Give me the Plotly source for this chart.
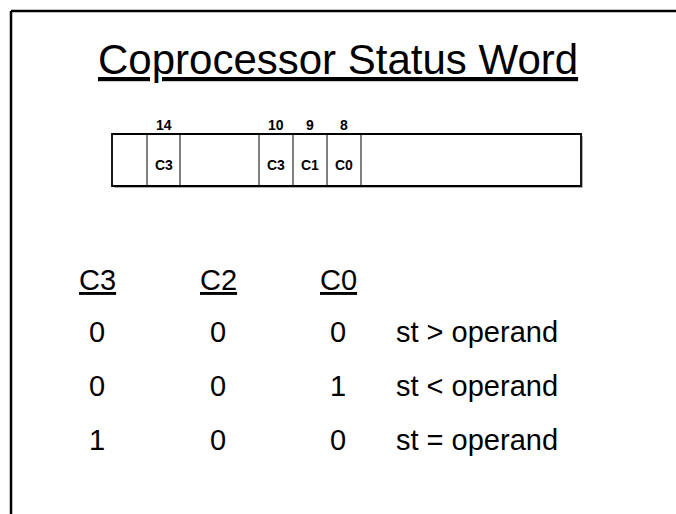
import plotly.graph_objects as go

# ---- data ----
title_text = "Coprocessor Status Word"

# register diagram: cell boundaries (diagram units), cell labels and bit numbers
cell_edges = [112, 147, 180, 259, 293, 327, 361, 581]
cell_labels = ["", "C3", "", "C3", "C1", "C0", ""]
bit_numbers = ["", "14", "", "10", "9", "8", ""]

# condition-code table
table_headers = ["C3", "C2", "C0"]
col_c3 = ["0", "0", "1"]
col_c2 = ["0", "0", "0"]
col_c0 = ["0", "1", "0"]
meaning = ["st > operand", "st < operand", "st = operand"]

# ---- layout helpers ----
W, H = 676, 514
FONT = "Liberation Sans, Arial, sans-serif"
reg_top, reg_bot = 134, 186
bit_y = 125
col_x = [97, 218, 338]
desc_x = 394
header_y = 280
row_y = [332, 386, 440]

fig = go.Figure()
fig.add_trace(go.Scatter(x=[0, W], y=[0, H], mode="markers",
                         marker=dict(opacity=0), hoverinfo="skip", showlegend=False))

shapes = []
# slide frame (partially visible)
shapes.append(dict(type="line", x0=11, y0=11, x1=W + 5, y1=11,
                   line=dict(color="black", width=2.5)))
shapes.append(dict(type="line", x0=11, y0=11, x1=11, y1=H + 5,
                   line=dict(color="black", width=2.5)))
# faint shadow of register box
shapes.append(dict(type="line", x0=cell_edges[0] + 2, y0=reg_bot + 1.5, x1=cell_edges[-1] + 1.5,
                   y1=reg_bot + 1.5, line=dict(color="#b0b0b0", width=1)))
shapes.append(dict(type="line", x0=cell_edges[-1] + 1.5, y0=reg_top + 2, x1=cell_edges[-1] + 1.5,
                   y1=reg_bot + 1.5, line=dict(color="#b0b0b0", width=1)))
# register outer box
shapes.append(dict(type="rect", x0=cell_edges[0], y0=reg_top, x1=cell_edges[-1], y1=reg_bot,
                   line=dict(color="black", width=1.8)))
for e in cell_edges[1:-1]:
    shapes.append(dict(type="line", x0=e, y0=reg_top, x1=e, y1=reg_bot,
                       line=dict(color="black", width=1)))

annotations = []
annotations.append(dict(x=W / 2, y=59, text=title_text, showarrow=False,
                        xanchor="center", yanchor="middle",
                        font=dict(family=FONT, size=42, color="black", lineposition="under")))
for i in range(len(cell_labels)):
    cx = (cell_edges[i] + cell_edges[i + 1]) / 2
    if cell_labels[i]:
        annotations.append(dict(x=cx, y=165, text="<b>%s</b>" % cell_labels[i],
                                showarrow=False, xanchor="center", yanchor="middle",
                                font=dict(family=FONT, size=14, color="black")))
    if bit_numbers[i]:
        annotations.append(dict(x=cx, y=bit_y, text="<b>%s</b>" % bit_numbers[i],
                                showarrow=False, xanchor="center", yanchor="middle",
                                font=dict(family=FONT, size=14, color="black")))

tfont = dict(family=FONT, size=29, color="black")
for j, h in enumerate(table_headers):
    annotations.append(dict(x=col_x[j], y=header_y, text=h, showarrow=False,
                            xanchor="center", yanchor="middle",
                            font=dict(tfont, lineposition="under")))
for r in range(3):
    for j, col in enumerate([col_c3, col_c2, col_c0]):
        annotations.append(dict(x=col_x[j], y=row_y[r], text=col[r], showarrow=False,
                                xanchor="center", yanchor="middle", font=tfont))
    annotations.append(dict(x=desc_x, y=row_y[r], text=meaning[r], showarrow=False,
                            xanchor="left", yanchor="middle", font=tfont))

fig.update_layout(
    width=W, height=H, margin=dict(l=0, r=0, t=0, b=0),
    paper_bgcolor="white", plot_bgcolor="white",
    xaxis=dict(range=[0, W], visible=False, fixedrange=True),
    yaxis=dict(range=[H, 0], visible=False, fixedrange=True),
    shapes=shapes, annotations=annotations, showlegend=False,
)
fig.write_html("out.html", config={"displayModeBar": False},
               post_script="document.body.style.margin='0';document.body.style.overflow='hidden';")
